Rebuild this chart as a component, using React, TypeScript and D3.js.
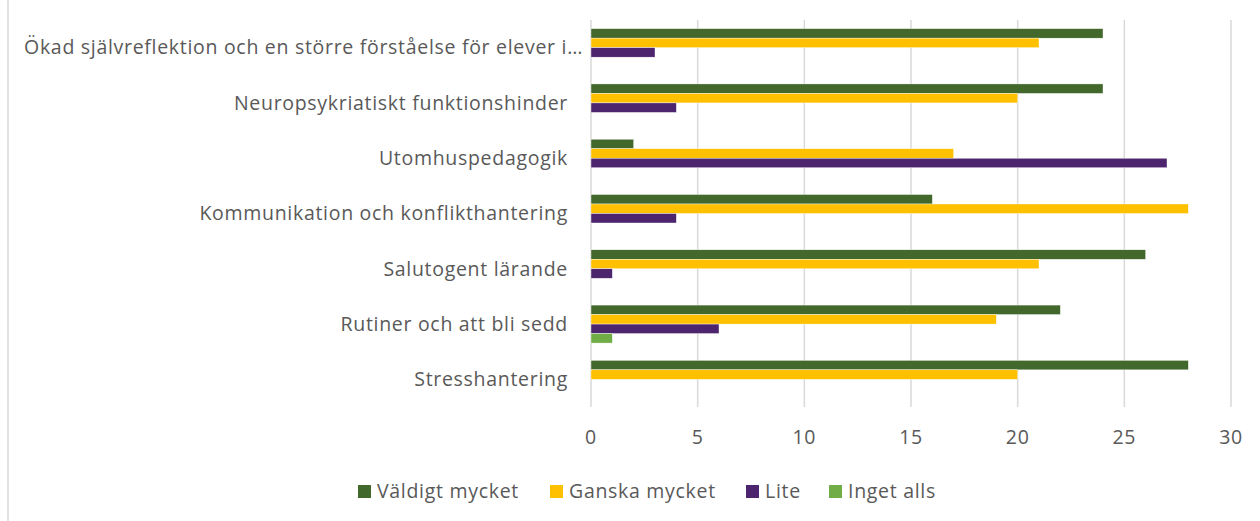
import React, { useEffect, useRef } from 'react';
import * as d3 from 'd3';

const categories = [
  'Ökad självreflektion och en större förståelse för elever i…',
  'Neuropsykriatiskt funktionshinder',
  'Utomhuspedagogik',
  'Kommunikation och konflikthantering',
  'Salutogent lärande',
  'Rutiner och att bli sedd',
  'Stresshantering',
];
const seriesNames = ['Väldigt mycket', 'Ganska mycket', 'Lite', 'Inget alls'];
const valdigtMycket = [24, 24, 2, 16, 26, 22, 28];
const ganskaMycket = [21, 20, 17, 28, 21, 19, 20];
const lite = [3, 4, 27, 4, 1, 6, 0];
const ingetAlls = [0, 0, 0, 0, 0, 1, 0];
const xTicks = [0, 5, 10, 15, 20, 25, 30];
const colors = ['#43682B', '#FFC000', '#4D246E', '#70AD47'];

const W = 1260, H = 521;

const App = () => {
  const ref = useRef<SVGSVGElement>(null);

  useEffect(() => {
    const svg = d3.select(ref.current);
    svg.selectAll('*').remove();
    const font = '"Open Sans", sans-serif';
    const grey = '#595959';
    const fs = 19.5, ls = 0.7;

    const x = d3.scaleLinear().domain([0, 30]).range([591, 1231]);
    const y = d3.scaleBand().domain(categories).range([20, 407]).paddingInner(0).paddingOuter(0);
    const yInner = d3.scaleBand().domain(seriesNames).range([0, y.bandwidth()]).paddingInner(0).paddingOuter(0.91);

    // left border
    svg.append('line').attr('x1', 8).attr('x2', 8).attr('y1', 0).attr('y2', H)
      .attr('stroke', '#D9D9D9').attr('stroke-width', 1.5);

    // gridlines
    svg.append('g').selectAll('line').data(xTicks).enter().append('line')
      .attr('x1', d => x(d)).attr('x2', d => x(d))
      .attr('y1', 20).attr('y2', 407)
      .attr('stroke', '#D9D9D9').attr('stroke-width', 1.5);

    const allSeries = [valdigtMycket, ganskaMycket, lite, ingetAlls];
    const rows: { cat: string; s: string; v: number; i: number }[] = [];
    categories.forEach((c, ci) => {
      seriesNames.forEach((s, si) => {
        rows.push({ cat: c, s, v: allSeries[si][ci], i: si });
      });
    });

    svg.append('g').selectAll('rect').data(rows.filter(r => r.v > 0)).enter().append('rect')
      .attr('x', x(0))
      .attr('y', d => (y(d.cat) as number) + (yInner(d.s) as number))
      .attr('width', d => x(d.v) - x(0))
      .attr('height', yInner.bandwidth())
      .attr('fill', d => colors[d.i])
      .attr('stroke', 'white').attr('stroke-width', 0.4);

    // category labels (the truncated one sits a bit further right, like Excel does)
    svg.append('g').selectAll('text').data(categories).enter().append('text')
      .attr('x', d => d.endsWith('…') ? 583 : 568)
      .attr('y', d => (y(d) as number) + y.bandwidth() / 2)
      .attr('dy', '0.35em')
      .attr('text-anchor', 'end')
      .attr('font-family', font).attr('font-size', fs).attr('letter-spacing', ls).attr('fill', grey)
      .text(d => d);

    // x tick labels
    svg.append('g').selectAll('text').data(xTicks).enter().append('text')
      .attr('x', d => x(d)).attr('y', 437).attr('dy', '0.35em')
      .attr('text-anchor', 'middle')
      .attr('font-family', font).attr('font-size', fs).attr('letter-spacing', ls).attr('fill', grey)
      .text(d => d);

    // legend
    const legendX = [358, 550, 746, 829];
    const lg = svg.append('g');
    seriesNames.forEach((s, i) => {
      lg.append('rect').attr('x', legendX[i]).attr('y', 485).attr('width', 13).attr('height', 13)
        .attr('fill', colors[i]);
      lg.append('text').attr('x', legendX[i] + 19).attr('y', 491.5).attr('dy', '0.35em')
        .attr('font-family', font).attr('font-size', fs).attr('letter-spacing', ls).attr('fill', grey)
        .text(s);
    });
  }, []);

  return (
    <div style={{ position: 'absolute', left: 0, top: 0 }}>
      <svg ref={ref} width={W} height={H} style={{ display: 'block', background: 'white' }} />
    </div>
  );
};

export default App;
